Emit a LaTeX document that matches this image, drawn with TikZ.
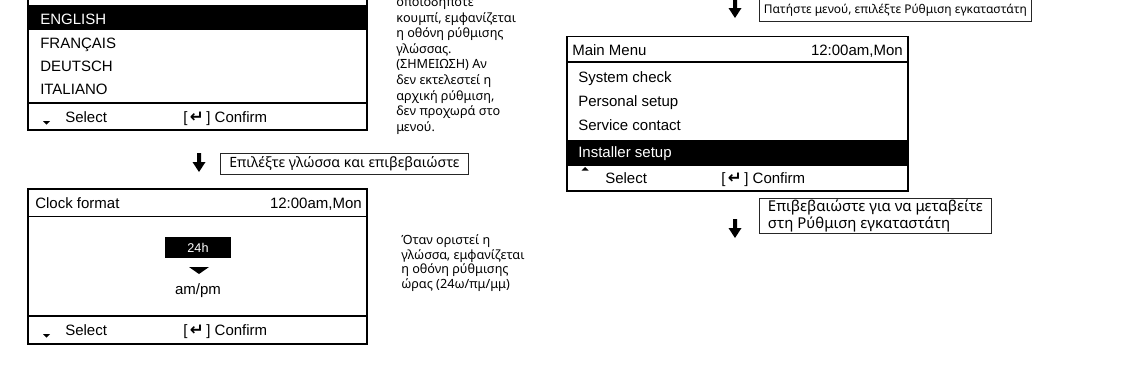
\documentclass[tikz,border=0pt]{standalone}
\usepackage{fontspec}
\setmainfont{Liberation Sans}
\newfontfamily\grfont{Noto Sans}
\newfontfamily\symfont{DejaVu Sans}
\usetikzlibrary{positioning}

\newcommand{\retkey}{[\,{\symfont\bfseries\fontsize{12.5}{13}\selectfont ↵}\,]}

\begin{document}
\begin{tikzpicture}[
  x=0.75pt, y=-0.75pt,
  frame/.style={draw, line width=1.4pt},
  sep/.style={draw, line width=1.1pt},
  item/.style={anchor=base west, inner sep=0pt, font=\fontsize{11.25}{13}\selectfont},
  note/.style={anchor=base west, inner sep=0pt, font=\grfont\fontsize{9.5}{11.5}\selectfont},
  tag/.style={draw=black!85, line width=0.6pt, anchor=west, inner xsep=3pt, inner ysep=2.5pt, align=left},
  dnarrow/.pic={\fill (-2,0) -- (2,0) -- (2,9) -- (6.5,9) -- (0,19) -- (-6.5,9) -- (-2,9) -- cycle;},
]
  \useasboundingbox (0,0) rectangle (1124,382);
  \clip (0,0) rectangle (1124,382);

  % language screen
  \fill (28,5) rectangle (367,30);
  \draw[frame] (28,-30) rectangle (367,130);
  \draw[sep] (28,103) -- (367,103);
  \node[item, text=white] (english) at (40,24) {ENGLISH};
  \node[item] (francais) at (40,48.5) {FRANÇAIS};
  \node[item] (deutsch) at (40,71.5) {DEUTSCH};
  \node[item] (italiano) at (40,94.5) {ITALIANO};
  \fill (43,121) -- (50,121) -- (46.5,124.5) -- cycle;
  \node[item] (sel1) at (65,122.5) {Select};
  \node[item] (conf1) at (183,122.5) {\retkey{} Confirm};

  \foreach \txt [count=\i from 0] in {οποιοδήποτε, {κουμπί, εμφανίζεται}, η οθόνη ρύθμισης, γλώσσας., (ΣΗΜΕΙΩΣΗ) Αν, δεν εκτελεστεί η, {αρχική ρύθμιση,}, δεν προχωρά στο, μενού.}
    \node[note] (langnote-\i) at (396,6.5+15.6*\i) {\txt};

  \pic at (199,153) {dnarrow};
  \node[tag, minimum width=186pt, font=\grfont\fontsize{10.6}{12.5}\selectfont] (picklang) at (220,163.5) {Επιλέξτε γλώσσα και επιβεβαιώστε};

  % clock format screen
  \draw[frame] (28,189) rectangle (367,344);
  \draw[sep] (28,216.5) -- (367,216.5);
  \draw[sep] (28,316) -- (367,316);
  \node[item] (clockhd) at (35,208.5) {Clock format};
  \node[item, anchor=base east] (clocktime) at (362,208.5) {12:00am,Mon};
  \node[fill=black, text=white, minimum width=49.5pt, minimum height=15.75pt, inner sep=0pt, font=\fontsize{9.5}{11}\selectfont] (h24) at (198,247.5) {24h};
  \fill (189,267) -- (209,267) -- (199,274) -- cycle;
  \node[inner sep=0pt, font=\fontsize{11.25}{13}\selectfont] (ampm) at (198,291) {am/pm};
  \fill (43,334) -- (50,334) -- (46.5,337.5) -- cycle;
  \node[item] (sel2) at (65,335.5) {Select};
  \node[item] (conf2) at (183,335.5) {\retkey{} Confirm};

  \foreach \txt [count=\i from 0] in {Όταν οριστεί η, {γλώσσα, εμφανίζεται}, η οθόνη ρύθμισης, ώρας (24ω/πμ/μμ)}
    \node[note] (clocknote-\i) at (401,244.5+14.6*\i) {\txt};

  % main menu screen
  \pic at (735,-1) {dnarrow};
  \node[tag, minimum width=204pt, minimum height=16.5pt, font=\grfont\fontsize{9}{11}\selectfont] (pressmenu) at (759,10) {Πατήστε μενού, επιλέξτε Ρύθμιση εγκαταστάτη};

  \fill (567,140) rectangle (908,165);
  \draw[frame] (567,36.5) rectangle (908,191);
  \draw[sep] (567,62) -- (908,62);
  \draw[sep] (567,165) -- (908,165);
  \node[item] (menuhd) at (572,55) {Main Menu};
  \node[item, anchor=base east] (menutime) at (903,55) {12:00am,Mon};
  \node[item] (syscheck) at (578,82.5) {System check};
  \node[item] (personal) at (578,106.5) {Personal setup};
  \node[item] (service) at (578,130.5) {Service contact};
  \node[item, text=white] (installer) at (578,157) {Installer setup};
  \fill (581.5,170.5) -- (588.5,170.5) -- (585,167) -- cycle;
  \node[item] (sel3) at (605,183.5) {Select};
  \node[item] (conf3) at (721,183.5) {\retkey{} Confirm};

  \pic at (735,219) {dnarrow};
  \node[tag, minimum width=174pt, inner ysep=0.8pt, font=\grfont\fontsize{11.2}{12.75}\selectfont] (gotoinst) at (759,216) {Επιβεβαιώστε για να μεταβείτε\\στη Ρύθμιση εγκαταστάτη};
\end{tikzpicture}
\end{document}
